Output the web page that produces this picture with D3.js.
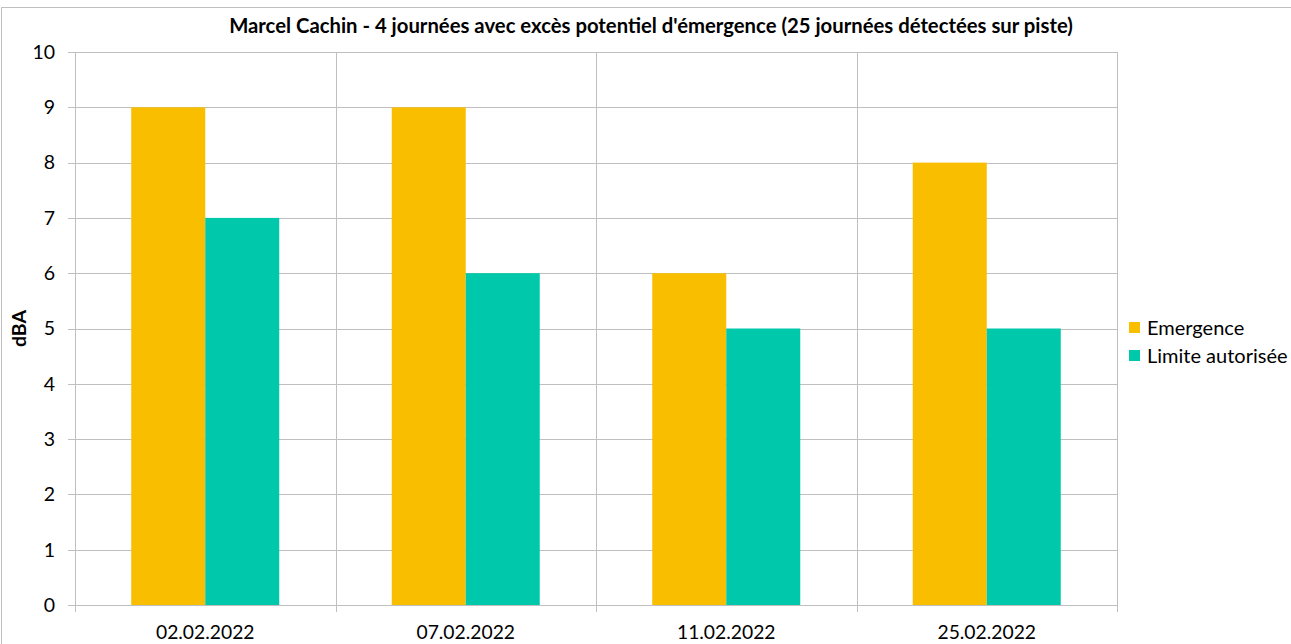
<!DOCTYPE html>
<html>
<head>
<meta charset="utf-8">
<script src="https://cdn.jsdelivr.net/npm/d3@7"></script>
<style>
  body { margin: 0; background: #fff; }
  text { font-family: Lato, "Open Sans", sans-serif; fill: #000; }
</style>
</head>
<body>
<div id="chart"></div>
<script>
// Chart data
let categories = ["02.02.2022", "07.02.2022", "11.02.2022", "25.02.2022"];
let series_names = ["Emergence", "Limite autorisée"];
let emergence = [9, 9, 6, 8];
let limite = [7, 6, 5, 5];
let y_ticks = [0, 1, 2, 3, 4, 5, 6, 7, 8, 9, 10];
let colors = ["#F9BE00", "#00C9AB"];
let title = "Marcel Cachin - 4 journées avec excès potentiel d'émergence (25 journées détectées sur piste)";

let svg_width = 1291, svg_height = 644;
let margin = { top: 52, right: 174, bottom: 39, left: 75 };
let width = svg_width - margin.left - margin.right;
let height = svg_height - margin.top - margin.bottom;

let root = d3.select("#chart")
    .append("svg")
        .attr("width", svg_width)
        .attr("height", svg_height);

// Outer chart frame
root.append("rect")
    .attr("x", 1.5)
    .attr("y", 7.5)
    .attr("width", svg_width + 10)
    .attr("height", svg_height)
    .attr("fill", "none")
    .attr("stroke", "#bfbfbf");

// Title
root.append("text")
    .attr("x", 651)
    .attr("y", 33)
    .attr("text-anchor", "middle")
    .style("font-weight", "bold")
    .style("font-size", "20.3px")
    .text(title);

let svg = root.append("g")
    .attr("transform", "translate(" + margin.left + "," + margin.top + ")");

// Scales
let x_scale = d3.scaleBand()
    .domain(categories)
    .range([0, width]);
let x_inner = d3.scaleBand()
    .domain(series_names)
    .range([0, x_scale.bandwidth()])
    .paddingOuter(0.76);
let y_scale = d3.scaleLinear()
    .domain([0, 10])
    .range([height, 0]);

// Horizontal grid lines
svg.append("g")
    .selectAll("line")
    .data(y_ticks)
    .enter()
    .append("line")
        .attr("x1", -7)
        .attr("x2", width)
        .attr("y1", d => Math.round(y_scale(d)) + 0.5)
        .attr("y2", d => Math.round(y_scale(d)) + 0.5)
        .attr("stroke", "#bfbfbf");

// Vertical grid lines at category boundaries
let bounds = categories.map(c => x_scale(c)).concat([width]);
svg.append("g")
    .selectAll("line")
    .data(bounds)
    .enter()
    .append("line")
        .attr("x1", d => Math.round(d) + 0.5)
        .attr("x2", d => Math.round(d) + 0.5)
        .attr("y1", 0)
        .attr("y2", height + 7)
        .attr("stroke", "#bfbfbf");

// Bars
let rows = categories.map((c, i) => ({ cat: c, values: [emergence[i], limite[i]] }));
let groups = svg.selectAll(".group")
    .data(rows)
    .enter()
    .append("g")
        .attr("transform", d => "translate(" + x_scale(d.cat) + ",0)");
groups.selectAll("rect")
    .data(d => d.values.map((v, j) => ({ name: series_names[j], value: v, j: j })))
    .enter()
    .append("rect")
        .attr("x", d => x_inner(d.name))
        .attr("y", d => y_scale(d.value))
        .attr("width", x_inner.bandwidth())
        .attr("height", d => height - y_scale(d.value))
        .attr("fill", d => colors[d.j]);

// Y tick labels
svg.append("g")
    .selectAll("text")
    .data(y_ticks)
    .enter()
    .append("text")
        .attr("x", -20)
        .attr("y", d => y_scale(d))
        .attr("dy", "0.35em")
        .attr("text-anchor", "end")
        .style("font-size", "19.5px")
        .text(d => d);

// X tick labels
svg.append("g")
    .selectAll("text")
    .data(categories)
    .enter()
    .append("text")
        .attr("x", d => x_scale(d) + x_scale.bandwidth() / 2)
        .attr("y", height + 34)
        .attr("text-anchor", "middle")
        .style("font-size", "19.3px")
        .text(d => d);

// Y axis label
root.append("text")
    .attr("transform", "translate(26," + (margin.top + height / 2) + ") rotate(-90)")
    .attr("text-anchor", "middle")
    .style("font-weight", "bold")
    .style("font-size", "19.5px")
    .text("dBA");

// Legend
let legend = root.append("g")
    .attr("transform", "translate(1129,319)");
series_names.forEach(function(name, i) {
    legend.append("rect")
        .attr("x", 0)
        .attr("y", i * 28 + 3)
        .attr("width", 11)
        .attr("height", 11)
        .attr("fill", colors[i]);
    legend.append("text")
        .attr("x", 18)
        .attr("y", i * 28 + 9)
        .attr("dy", "0.35em")
        .style("font-size", "20px")
        .text(name);
});
</script>
</body>
</html>
